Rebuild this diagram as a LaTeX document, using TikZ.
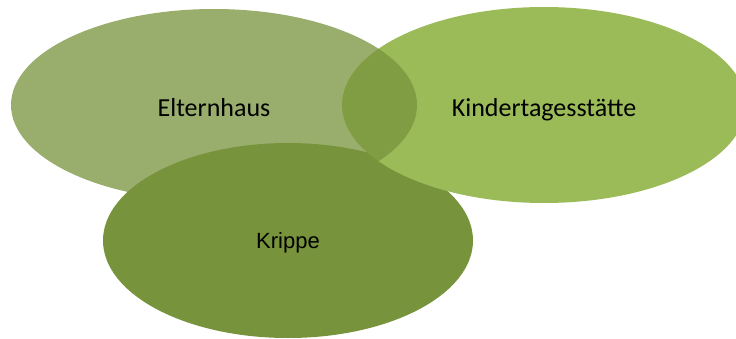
\documentclass[tikz,border=0pt]{standalone}
\usepackage{fontspec}
\newfontfamily\calfont{Carlito}
\newfontfamily\arialfont{Liberation Sans}
\usetikzlibrary{shapes.geometric}
\definecolor{vnolive}{RGB}{119,147,60}
\definecolor{vnlight}{RGB}{155,187,89}
\tikzstyle{blob} = [ellipse, draw=none, inner sep=0pt, text=black]
\tikzstyle{caltext} = [font=\calfont\fontsize{26}{30}\selectfont, text height=23pt, text depth=0pt]

\begin{document}
\begin{tikzpicture}[x=1pt,y=1pt]
\useasboundingbox (0,0) rectangle (736,338);

% Ellipses, back to front
\node[blob, fill=vnolive, minimum width=370pt, minimum height=195pt,
  font=\arialfont\fontsize{22}{26}\selectfont, text height=15pt, text depth=0pt]
  (krippe) at (288,97.5) {Krippe};
\node[blob, caltext, fill=vnlight, minimum width=404pt, minimum height=196pt]
  (kita) at (544,233) {Kindertagesstätte};
\node[blob, caltext, fill=vnolive, fill opacity=0.75, text opacity=1,
  minimum width=406pt, minimum height=192pt]
  (eltern) at (214,233) {Elternhaus};
\end{tikzpicture}
\end{document}
